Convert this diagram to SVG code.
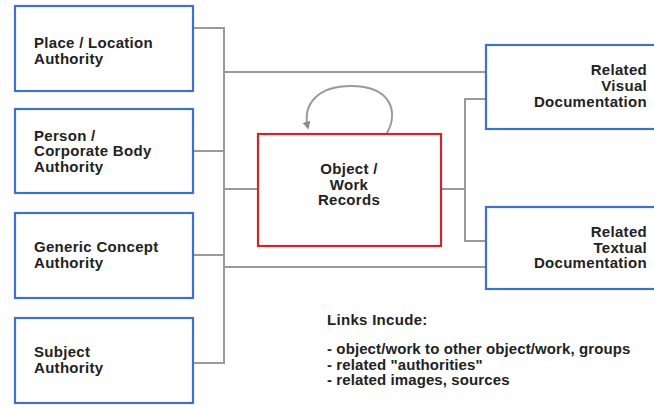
<svg xmlns="http://www.w3.org/2000/svg" width="654" height="408" viewBox="0 0 654 408">
<style>
.auth{fill:#fff;stroke:#3f6fcf;stroke-width:2.2}
.obj{fill:#fff;stroke:#d0262a;stroke-width:2.2}
.t{font-family:"Liberation Sans",Arial,sans-serif;font-weight:bold;font-size:15px;letter-spacing:0.3px;fill:#222}
.r{text-anchor:end}
.m{text-anchor:middle}
.c{fill:none;stroke:#9a9a9a;stroke-width:2}
.l{letter-spacing:0.1px}
</style>
<defs>
<marker id="ah" viewBox="0 0 10 10" refX="8" refY="5" markerWidth="4" markerHeight="4" orient="auto" markerUnits="strokeWidth">
<path d="M0,0 L10,5 L0,10 z" fill="#8a8a8a"/>
</marker>
</defs>
<g id="connectors">
<path class="c" d="M193,28 H224 V363 H193"/>
<path class="c" d="M193,151 H224"/>
<path class="c" d="M193,255 H224"/>
<path class="c" d="M224,72 H486"/>
<path class="c" d="M224,267 H486"/>
<path class="c" d="M224,189 H258"/>
<path class="c" d="M441,189 H465"/>
<path class="c" d="M486,99 H465 V241 H486"/>
<path class="c" d="M387,133 C399,112 391,86 351,86 C318,86 302,104 308,128" marker-end="url(#ah)"/>
</g>
<g id="place">
<rect class="auth" x="15" y="6" width="178" height="85"/>
<text class="t" x="34" y="48">Place / Location</text>
<text class="t" x="34" y="63.5">Authority</text>
</g>
<g id="person">
<rect class="auth" x="15" y="109" width="178" height="84"/>
<text class="t" x="34" y="140.5">Person /</text>
<text class="t" x="34" y="156">Corporate Body</text>
<text class="t" x="34" y="171.5">Authority</text>
</g>
<g id="concept">
<rect class="auth" x="15" y="213" width="178" height="85"/>
<text class="t" x="34" y="252">Generic Concept</text>
<text class="t" x="34" y="267.5">Authority</text>
</g>
<g id="subject">
<rect class="auth" x="15" y="318" width="178" height="85"/>
<text class="t" x="34" y="357">Subject</text>
<text class="t" x="34" y="372.5">Authority</text>
</g>
<g id="object">
<rect class="obj" x="258" y="134" width="183" height="112"/>
<text class="t m" x="349" y="174">Object /</text>
<text class="t m" x="349" y="189.5">Work</text>
<text class="t m" x="349" y="205">Records</text>
</g>
<g id="visual">
<rect class="auth" x="486" y="45" width="180" height="84"/>
<text class="t r" x="647" y="75">Related</text>
<text class="t r" x="647" y="91">Visual</text>
<text class="t r" x="647" y="107">Documentation</text>
</g>
<g id="textual">
<rect class="auth" x="486" y="207" width="180" height="82"/>
<text class="t r" x="647" y="237">Related</text>
<text class="t r" x="647" y="252.5">Textual</text>
<text class="t r" x="647" y="268">Documentation</text>
</g>
<g id="links">
<text class="t" x="327" y="325">Links Incude:</text>
<text class="t l" x="327" y="354">- object/work to other object/work, groups</text>
<text class="t l" x="327" y="369.5">- related "authorities"</text>
<text class="t l" x="327" y="385">- related images, sources</text>
</g>
</svg>
